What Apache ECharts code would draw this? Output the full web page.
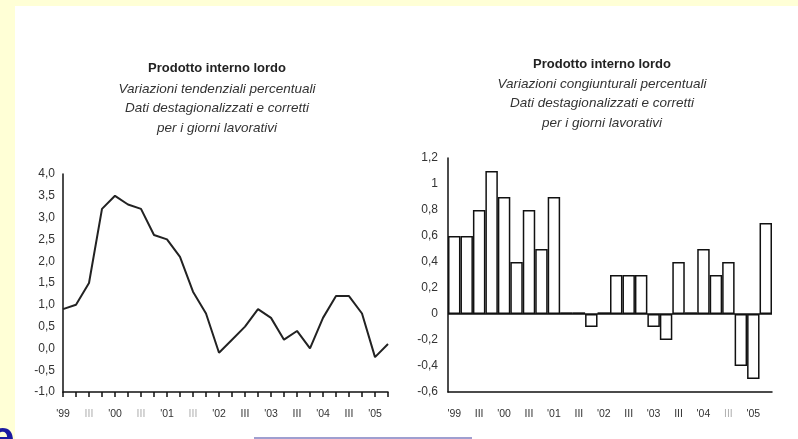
<!DOCTYPE html>
<html>
<head>
<meta charset="utf-8">
<script src="https://cdn.jsdelivr.net/npm/echarts@6/dist/echarts.min.js"></script>
<style>
    html, body { margin: 0; padding: 0; }
    #pilChart { width: 798px; height: 439px; }
</style>
</head>
<body>
<div id="pilChart"></div>
<script>
    // trimestri 1999 Q1 - 2005 Q2
    const tickLabels = ["'99", '', 'III', '', "'00", '', 'III', '', "'01", '', 'III', '', "'02", '', 'III', '', "'03", '', 'III', '', "'04", '', 'III', '', "'05", '']
    // variazioni tendenziali (sx)
    const tendenziali = [0.9, 1.0, 1.5, 3.2, 3.5, 3.3, 3.2, 2.6, 2.5, 2.1, 1.3, 0.8, -0.1, 0.2, 0.5, 0.9, 0.7, 0.2, 0.4, 0.0, 0.7, 1.2, 1.2, 0.8, -0.2, 0.1]
    // variazioni congiunturali (dx)
    const congiunturali = [0.6, 0.6, 0.8, 1.1, 0.9, 0.4, 0.8, 0.5, 0.9, 0.013, 0.013, -0.1, 0.013, 0.3, 0.3, 0.3, -0.1, -0.2, 0.4, 0.013, 0.5, 0.3, 0.4, -0.4, -0.5, 0.7]

    const titolo = 'Prodotto interno lordo'
    const sottotitoloSx = 'Variazioni tendenziali percentuali\nDati destagionalizzati e corretti\nper i giorni lavorativi'
    const sottotitoloDx = 'Variazioni congiunturali percentuali\nDati destagionalizzati e corretti\nper i giorni lavorativi'

    const font = 'Liberation Sans, Arial, sans-serif'
    const ink = '#111'

    function axisBase () {
        return {
            axisLine: { onZero: false, lineStyle: { color: ink, width: 1.5 } },
            axisTick: { inside: false, length: 5, lineStyle: { color: ink, width: 1.5 } },
            splitLine: { show: false }
        }
    }

    function xLabels (grayAt) {
        return {
            interval: 0,
            margin: 17,
            fontFamily: font,
            fontSize: 10.5,
            color: '#333',
            formatter: (v, i) => (v === 'III' && grayAt(i)) ? '{g|III}' : v,
            rich: { g: { color: '#b0b0b0', fontSize: 10.5, fontFamily: font } }
        }
    }

    let option = {
        backgroundColor: '#FFFFD6',
        animation: false,
        textStyle: { fontFamily: font },
        title: [
            {
                text: titolo,
                subtext: sottotitoloSx,
                left: 212,
                top: 53,
                textAlign: 'center',
                itemGap: 1,
                textStyle: { fontSize: 13, fontWeight: 'bold', color: '#222', lineHeight: 20, fontFamily: font },
                subtextStyle: { fontSize: 13.5, fontStyle: 'italic', color: '#333', lineHeight: 19.5, fontFamily: font }
            },
            {
                text: titolo,
                subtext: sottotitoloDx,
                left: 597,
                top: 49,
                textAlign: 'center',
                itemGap: 0,
                textStyle: { fontSize: 13, fontWeight: 'bold', color: '#222', lineHeight: 20, fontFamily: font },
                subtextStyle: { fontSize: 13.5, fontStyle: 'italic', color: '#333', lineHeight: 19.5, fontFamily: font }
            }
        ],
        graphic: [
            { type: 'rect', z: -10, shape: { x: 15, y: 6, width: 783, height: 433 }, style: { fill: '#fff' } },
            { type: 'line', z: -5, shape: { x1: 254, y1: 438, x2: 472, y2: 438 }, style: { stroke: '#7f7fc0', lineWidth: 1.5 } },
            { type: 'text', z: -5, left: -10, top: 418, style: { text: 'e', fill: '#1a1aa0', font: 'bold 44px ' + font } }
        ],
        grid: [
            { left: 63, top: 174, width: 325, height: 218 },
            { left: 448, top: 158, width: 324, height: 234 }
        ],
        xAxis: [
            Object.assign(axisBase(), {
                gridIndex: 0,
                type: 'category',
                boundaryGap: false,
                data: tickLabels,
                axisTick: { interval: 0, length: 5, lineStyle: { color: ink, width: 1.5 } },
                axisLabel: xLabels(i => i < 12)
            }),
            Object.assign(axisBase(), {
                gridIndex: 1,
                type: 'category',
                boundaryGap: true,
                data: tickLabels,
                axisTick: { interval: 0, length: 5, alignWithLabel: false, lineStyle: { color: ink, width: 1.5 } },
                axisLabel: xLabels(i => i === 22)
            })
        ],
        yAxis: [
            Object.assign(axisBase(), {
                gridIndex: 0,
                type: 'value',
                min: -1,
                max: 4,
                interval: 0.5,
                axisLine: { show: true, lineStyle: { color: ink, width: 1.5 } },
                axisLabel: {
                    margin: 8, fontSize: 12, color: '#333', fontFamily: font,
                    formatter: v => v.toFixed(1).replace('.', ',')
                }
            }),
            Object.assign(axisBase(), {
                gridIndex: 1,
                type: 'value',
                min: -0.6,
                max: 1.2,
                interval: 0.2,
                axisLine: { show: true, lineStyle: { color: ink, width: 1.5 } },
                axisLabel: {
                    margin: 10, fontSize: 12, color: '#333', fontFamily: font,
                    formatter: v => String(Math.round(v * 10) / 10).replace('.', ',')
                }
            })
        ],
        series: [
            {
                name: 'tendenziali',
                type: 'line',
                xAxisIndex: 0,
                yAxisIndex: 0,
                data: tendenziali,
                showSymbol: false,
                lineStyle: { color: '#222', width: 2 }
            },
            {
                name: 'congiunturali',
                type: 'bar',
                xAxisIndex: 1,
                yAxisIndex: 1,
                data: congiunturali,
                barWidth: '100%',
                barCategoryGap: '0%',
                itemStyle: { color: '#fff', borderColor: ink, borderWidth: 1.5 },
                markLine: {
                    silent: true,
                    symbol: ['none', 'none'],
                    label: { show: false },
                    lineStyle: { color: ink, width: 1.5, type: 'solid' },
                    data: [{ yAxis: 0 }]
                }
            }
        ]
    }

    const myChart = echarts.init(document.getElementById('pilChart'))
    myChart.setOption(option)
</script>
</body>
</html>
